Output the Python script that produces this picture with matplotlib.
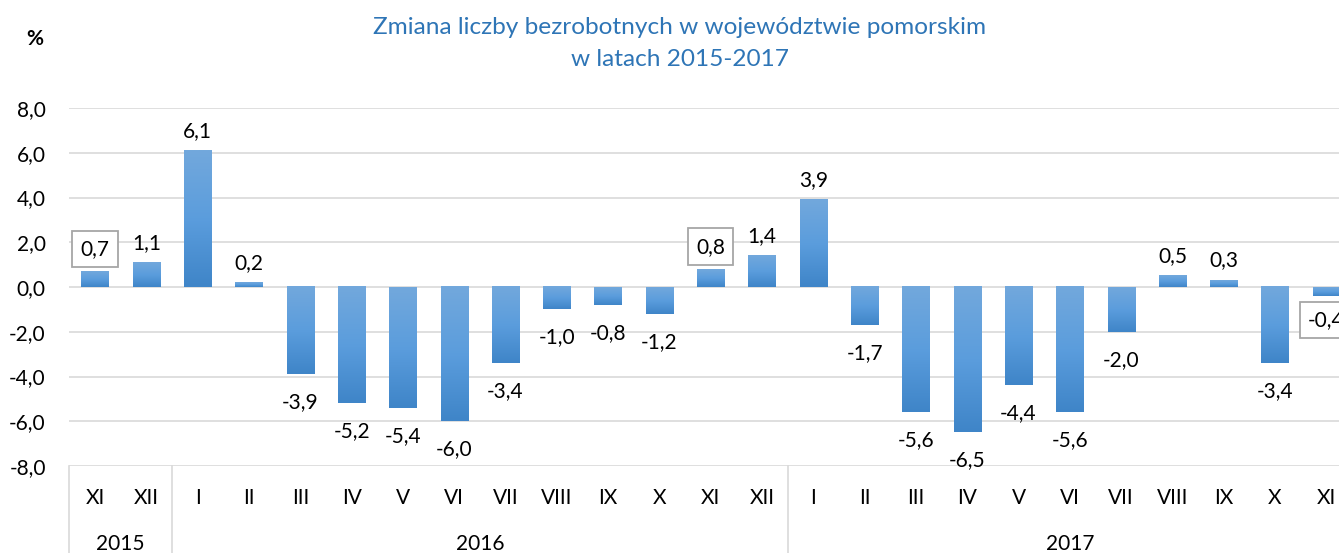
import numpy as np
import matplotlib
matplotlib.use("Agg")
import matplotlib.pyplot as plt
from matplotlib.colors import LinearSegmentedColormap

plt.rcParams['font.family'] = ['Lato', 'DejaVu Sans']

# data
months = ['XI', 'XII',
          'I', 'II', 'III', 'IV', 'V', 'VI', 'VII', 'VIII', 'IX', 'X', 'XI', 'XII',
          'I', 'II', 'III', 'IV', 'V', 'VI', 'VII', 'VIII', 'IX', 'X', 'XI']
values = [0.7, 1.1,
          6.1, 0.2, -3.9, -5.2, -5.4, -6.0, -3.4, -1.0, -0.8, -1.2, 0.8, 1.4,
          3.9, -1.7, -5.6, -6.5, -4.4, -5.6, -2.0, 0.5, 0.3, -3.4, -0.4]
years = ['2015', '2016', '2017']
year_counts = [2, 12, 11]
boxed = [0, 12, 24]  # labels drawn with a frame (each November)

W, H = 1339, 553
fig = plt.figure(figsize=(W / 100, H / 100), dpi=100)
# plot area runs past the right edge, like in the original screenshot
ax = fig.add_axes([69.4 / W, (H - 466) / H, (1352 - 69.4) / W, (466 - 108) / H])

grid_col = '#d9d9d9'
cmap = LinearSegmentedColormap.from_list('bar', ['#72a8dc', '#5b9ddd', '#3f85c8'])
grad = np.linspace(0, 1, 100).reshape(-1, 1)
fs = 15

x = np.arange(len(values))
bw = 0.53
for xi, v in zip(x, values):
    top, bot = max(v, 0), min(v, 0)
    ax.imshow(grad, cmap=cmap, aspect='auto', interpolation='bilinear',
              extent=[xi - bw / 2, xi + bw / 2, bot, top], zorder=3)

ax.set_xlim(-0.5, len(values) - 0.5)
ax.set_ylim(-8, 8)
ax.set_yticks(np.arange(-8, 9, 2))
ax.set_yticklabels([f'{t:.1f}'.replace('.', ',') for t in np.arange(-8, 9, 2)])
ax.yaxis.grid(True, color=grid_col, linewidth=1.2, zorder=0)
ax.set_axisbelow(True)
ax.set_xticks([])
ax.tick_params(axis='y', length=0, pad=17, labelsize=fs, labelcolor='#000000')
for s in ax.spines.values():
    s.set_visible(False)

# data labels
for i, (xi, v) in enumerate(zip(x, values)):
    txt = f'{v:.1f}'.replace('.', ',')
    kw = dict(ha='center', fontsize=fs, color='#000000', zorder=5,
              textcoords='offset points', annotation_clip=False)
    if i in boxed:
        kw['bbox'] = dict(boxstyle='square,pad=0.4', facecolor='white',
                          edgecolor='#a6a6a6', linewidth=1.3)
        off = 9 if v >= 0 else -10
    else:
        off = 7 if v >= 0 else -13
    if v >= 0:
        ax.annotate(txt, (xi, v), xytext=(0, off), va='bottom', **kw)
    else:
        ax.annotate(txt, (xi, v), xytext=(0, off), va='top', **kw)

# two-level category axis
xt = ax.get_xaxis_transform()
for xi, m in zip(x, months):
    ax.text(xi, -0.09, m, transform=xt, ha='center', va='center', fontsize=fs)
start = -0.5
seps = [start]
for y, n in zip(years, year_counts):
    ax.text(start + n / 2, -0.218, y, transform=xt, ha='center', va='center', fontsize=fs)
    start += n
    seps.append(start)
for sx in seps:
    ax.plot([sx, sx], [0, -0.3], transform=xt, color=grid_col, linewidth=1.2, clip_on=False)

fig.text(680 / W, 1 - 28 / H, 'Zmiana liczby bezrobotnych w województwie pomorskim',
         ha='center', va='center', fontsize=17.6, color='#2e75b6')
fig.text(680 / W, 1 - 60 / H, 'w latach 2015-2017',
         ha='center', va='center', fontsize=17.6, color='#2e75b6')
fig.text(35 / W, 1 - 39 / H, '%', ha='center', va='center', fontsize=fs, fontweight='bold')

fig.savefig('out.png', dpi=100)
